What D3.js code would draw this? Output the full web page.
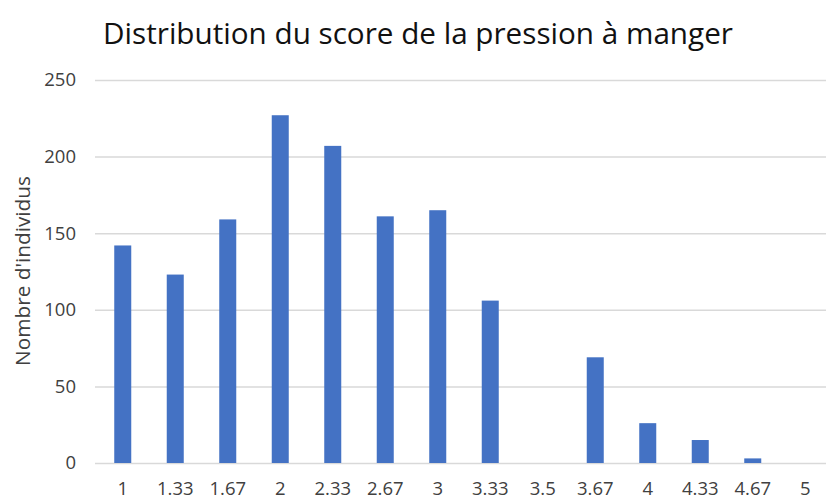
<!DOCTYPE html>
<html>
<head>
<meta charset="utf-8">
<script src="https://cdn.jsdelivr.net/npm/d3@7"></script>
<style>
  html, body { margin: 0; padding: 0; background: #fff; }
  svg { display: block; }
</style>
</head>
<body>
<svg id="chart" width="826" height="499"></svg>
<script>
const categories = ["1", "1.33", "1.67", "2", "2.33", "2.67", "3", "3.33", "3.5", "3.67", "4", "4.33", "4.67", "5"];
const counts = [142, 123, 159, 227, 207, 161, 165, 106, 0, 69, 26, 15, 3, 0];
const yTicks = [0, 50, 100, 150, 200, 250];
const titleText = "Distribution du score de la pression à manger";
const yTitle = "Nombre d'individus";

(function () {
const svg = d3.select("#chart");
const W = 826, H = 499;
const pLeft = 96.5, pRight = 831.5, pTop = 80, pBottom = 463;

const x = d3.scaleBand().domain(categories).range([pLeft, pRight])
  .paddingInner(0.676).paddingOuter(0.338);
const y = d3.scaleLinear().domain([0, 250]).range([pBottom, pTop]);

svg.append("rect").attr("width", W).attr("height", H).attr("fill", "#fff");

// gridlines
const grid = svg.append("g")
  .attr("transform", "translate(95,0)")
  .call(d3.axisLeft(y).tickValues(yTicks).tickSize(-(W - 95)).tickFormat(""));
grid.select(".domain").remove();
grid.selectAll(".tick line").attr("stroke", "#d9d9d9").attr("stroke-width", 1.5);

// y tick labels
const yAxis = svg.append("g").attr("transform", "translate(76,0)")
  .call(d3.axisLeft(y).tickValues(yTicks).tickSize(0).tickPadding(0));
yAxis.select(".domain").remove();
yAxis.selectAll("text")
  .attr("font-family", "'Open Sans', sans-serif")
  .attr("font-size", 18.5).attr("fill", "#404040");

// bars
svg.append("g").selectAll("rect").data(categories).join("rect")
  .attr("x", d => x(d))
  .attr("width", x.bandwidth())
  .attr("y", (d, i) => y(counts[i]))
  .attr("height", (d, i) => y(0) - y(counts[i]))
  .attr("fill", "#4472c4");

// x tick labels
const xAxis = svg.append("g").attr("transform", `translate(0,${pBottom})`)
  .call(d3.axisBottom(x).tickSize(0).tickPadding(0));
xAxis.select(".domain").remove();
xAxis.selectAll("text")
  .attr("y", 32).attr("dy", 0)
  .attr("font-family", "'Open Sans', sans-serif")
  .attr("font-size", 18.5).attr("fill", "#404040");

// y axis title
const yt = svg.append("text")
  .attr("transform", "translate(30,271) rotate(-90)")
  .attr("text-anchor", "middle")
  .attr("font-family", "'Open Sans', sans-serif")
  .attr("font-size", 18).attr("fill", "#404040")
  .text(yTitle);
const ylen = yt.node().getComputedTextLength();
yt.attr("font-size", 18 * 190 / ylen);

// chart title
const t = svg.append("text")
  .attr("x", 418).attr("y", 44)
  .attr("text-anchor", "middle")
  .attr("font-family", "'Open Sans', sans-serif")
  .attr("font-size", 28).attr("fill", "#111")
  .text(titleText);
const len = t.node().getComputedTextLength();
t.attr("font-size", 28 * 630 / len);
})();
</script>
</body>
</html>
